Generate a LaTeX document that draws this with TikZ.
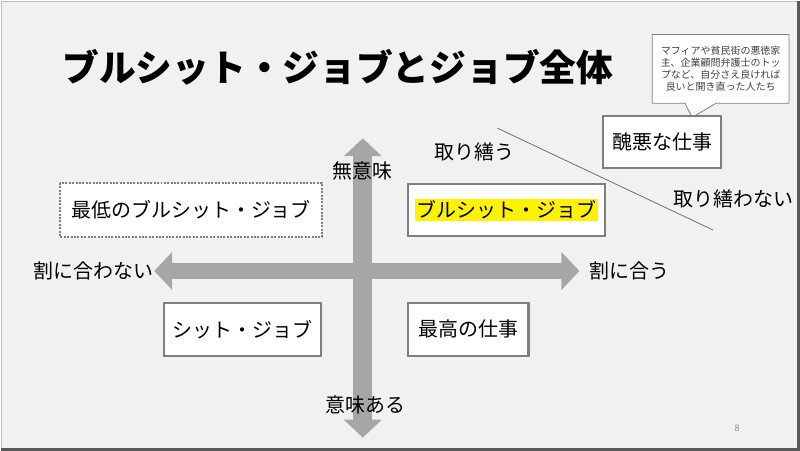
\documentclass[tikz,border=0pt]{standalone}
\usepackage{fontspec}
\setmainfont{Noto Sans CJK JP}
\usetikzlibrary{arrows.meta,shapes.callouts}
\definecolor{slidebg}{HTML}{F1F1F1}
\definecolor{boxline}{HTML}{7F7F7F}
\definecolor{axisgray}{HTML}{A6A6A6}
\definecolor{notetext}{HTML}{404040}
\definecolor{cutline}{HTML}{6E6E6E}
\begin{document}
\begin{tikzpicture}
[
    x=1pt, y=-1pt,
    quad/.style={draw=boxline, line width=2.2pt, fill=white, inner sep=0pt, font=\fontsize{20}{24}\selectfont},
    axis/.style={axisgray, line width=#1, arrows={Triangle[width=37pt,length=18pt]-Triangle[width=37pt,length=18pt]}},
    tag/.style={inner sep=0pt, font=\fontsize{20}{24}\selectfont},
]
% slide
\fill[slidebg] (0,0) rectangle (800,450);
\draw[black!25, line width=1pt] (0.5,448) -- (0.5,0.5) -- (797,0.5);
\draw[black!65, line width=3pt] (798.5,0) -- (798.5,448.5) -- (0,448.5);
\useasboundingbox (0,0) rectangle (800,450);

\node[inner sep=0pt, font=\fontsize{36.8}{40}\selectfont\bfseries] (title) at (337,66) {ブルシット・ジョブとジョブ全体};

% axes
\coordinate (top) at (362,137);
\coordinate (bottom) at (362,437);
\coordinate (left) at (153,270);
\coordinate (right) at (579,270);
\draw[axis=19pt] (top) -- (bottom);
\draw[axis=17pt] (left) -- (right);

\node[tag] (useless) at (362,170) {無意味};
\node[tag] (useful) at (365,404) {意味ある};
\node[tag] (unpaid) at (92,270) {割に合わない};
\node[tag] (paid) at (629,270) {割に合う};

% quadrants
\node[quad, draw=none, minimum width=260pt, minimum height=52pt] (worst) at (190,209) {最低のブルシット・ジョブ};
\draw[boxline, line width=2.2pt, dash pattern=on 2pt off 1.4pt] (worst.north west) rectangle (worst.south east);
\node[quad, minimum width=198pt, minimum height=52pt] (bs) at (506,209) {\setlength\fboxsep{1.5pt}\colorbox{yellow}{ブルシット・ジョブ}};
\node[quad, minimum width=157pt, minimum height=53pt] (shit) at (241.5,328.5) {シット・ジョブ};
\node[quad, minimum width=121pt, minimum height=53pt] (best) at (467.5,328.5) {最高の仕事};

% mending line
\coordinate (cutA) at (497,127);
\coordinate (cutB) at (713,229);
\draw[cutline, line width=0.8pt] (cutA) -- (cutB);
\node[tag] (mend) at (474,151) {取り繕う};
\node[tag] (nomend) at (733,198) {取り繕わない};

% note
\coordinate (tip) at (692,116);
\node[rectangle callout, callout absolute pointer={(tip)}, callout pointer width=31pt, draw=boxline, line width=0.8pt, fill=white, minimum width=137pt, minimum height=69pt, inner sep=0pt, align=center, text=notetext, font=\fontsize{10}{12.2}\selectfont] (note) at (720.5,67.5) {マフィアや貧民街の悪徳家\\主、企業顧問弁護士のトッ\\プなど、自分さえ良ければ\\良いと開き直った人たち};
\node[quad, minimum width=118pt, minimum height=52pt] (ugly) at (662,141) {醜悪な仕事};

\node[inner sep=0pt, text=black!45, font=\fontsize{9}{10}\selectfont] (page) at (737,428) {8};
\end{tikzpicture}
\end{document}
